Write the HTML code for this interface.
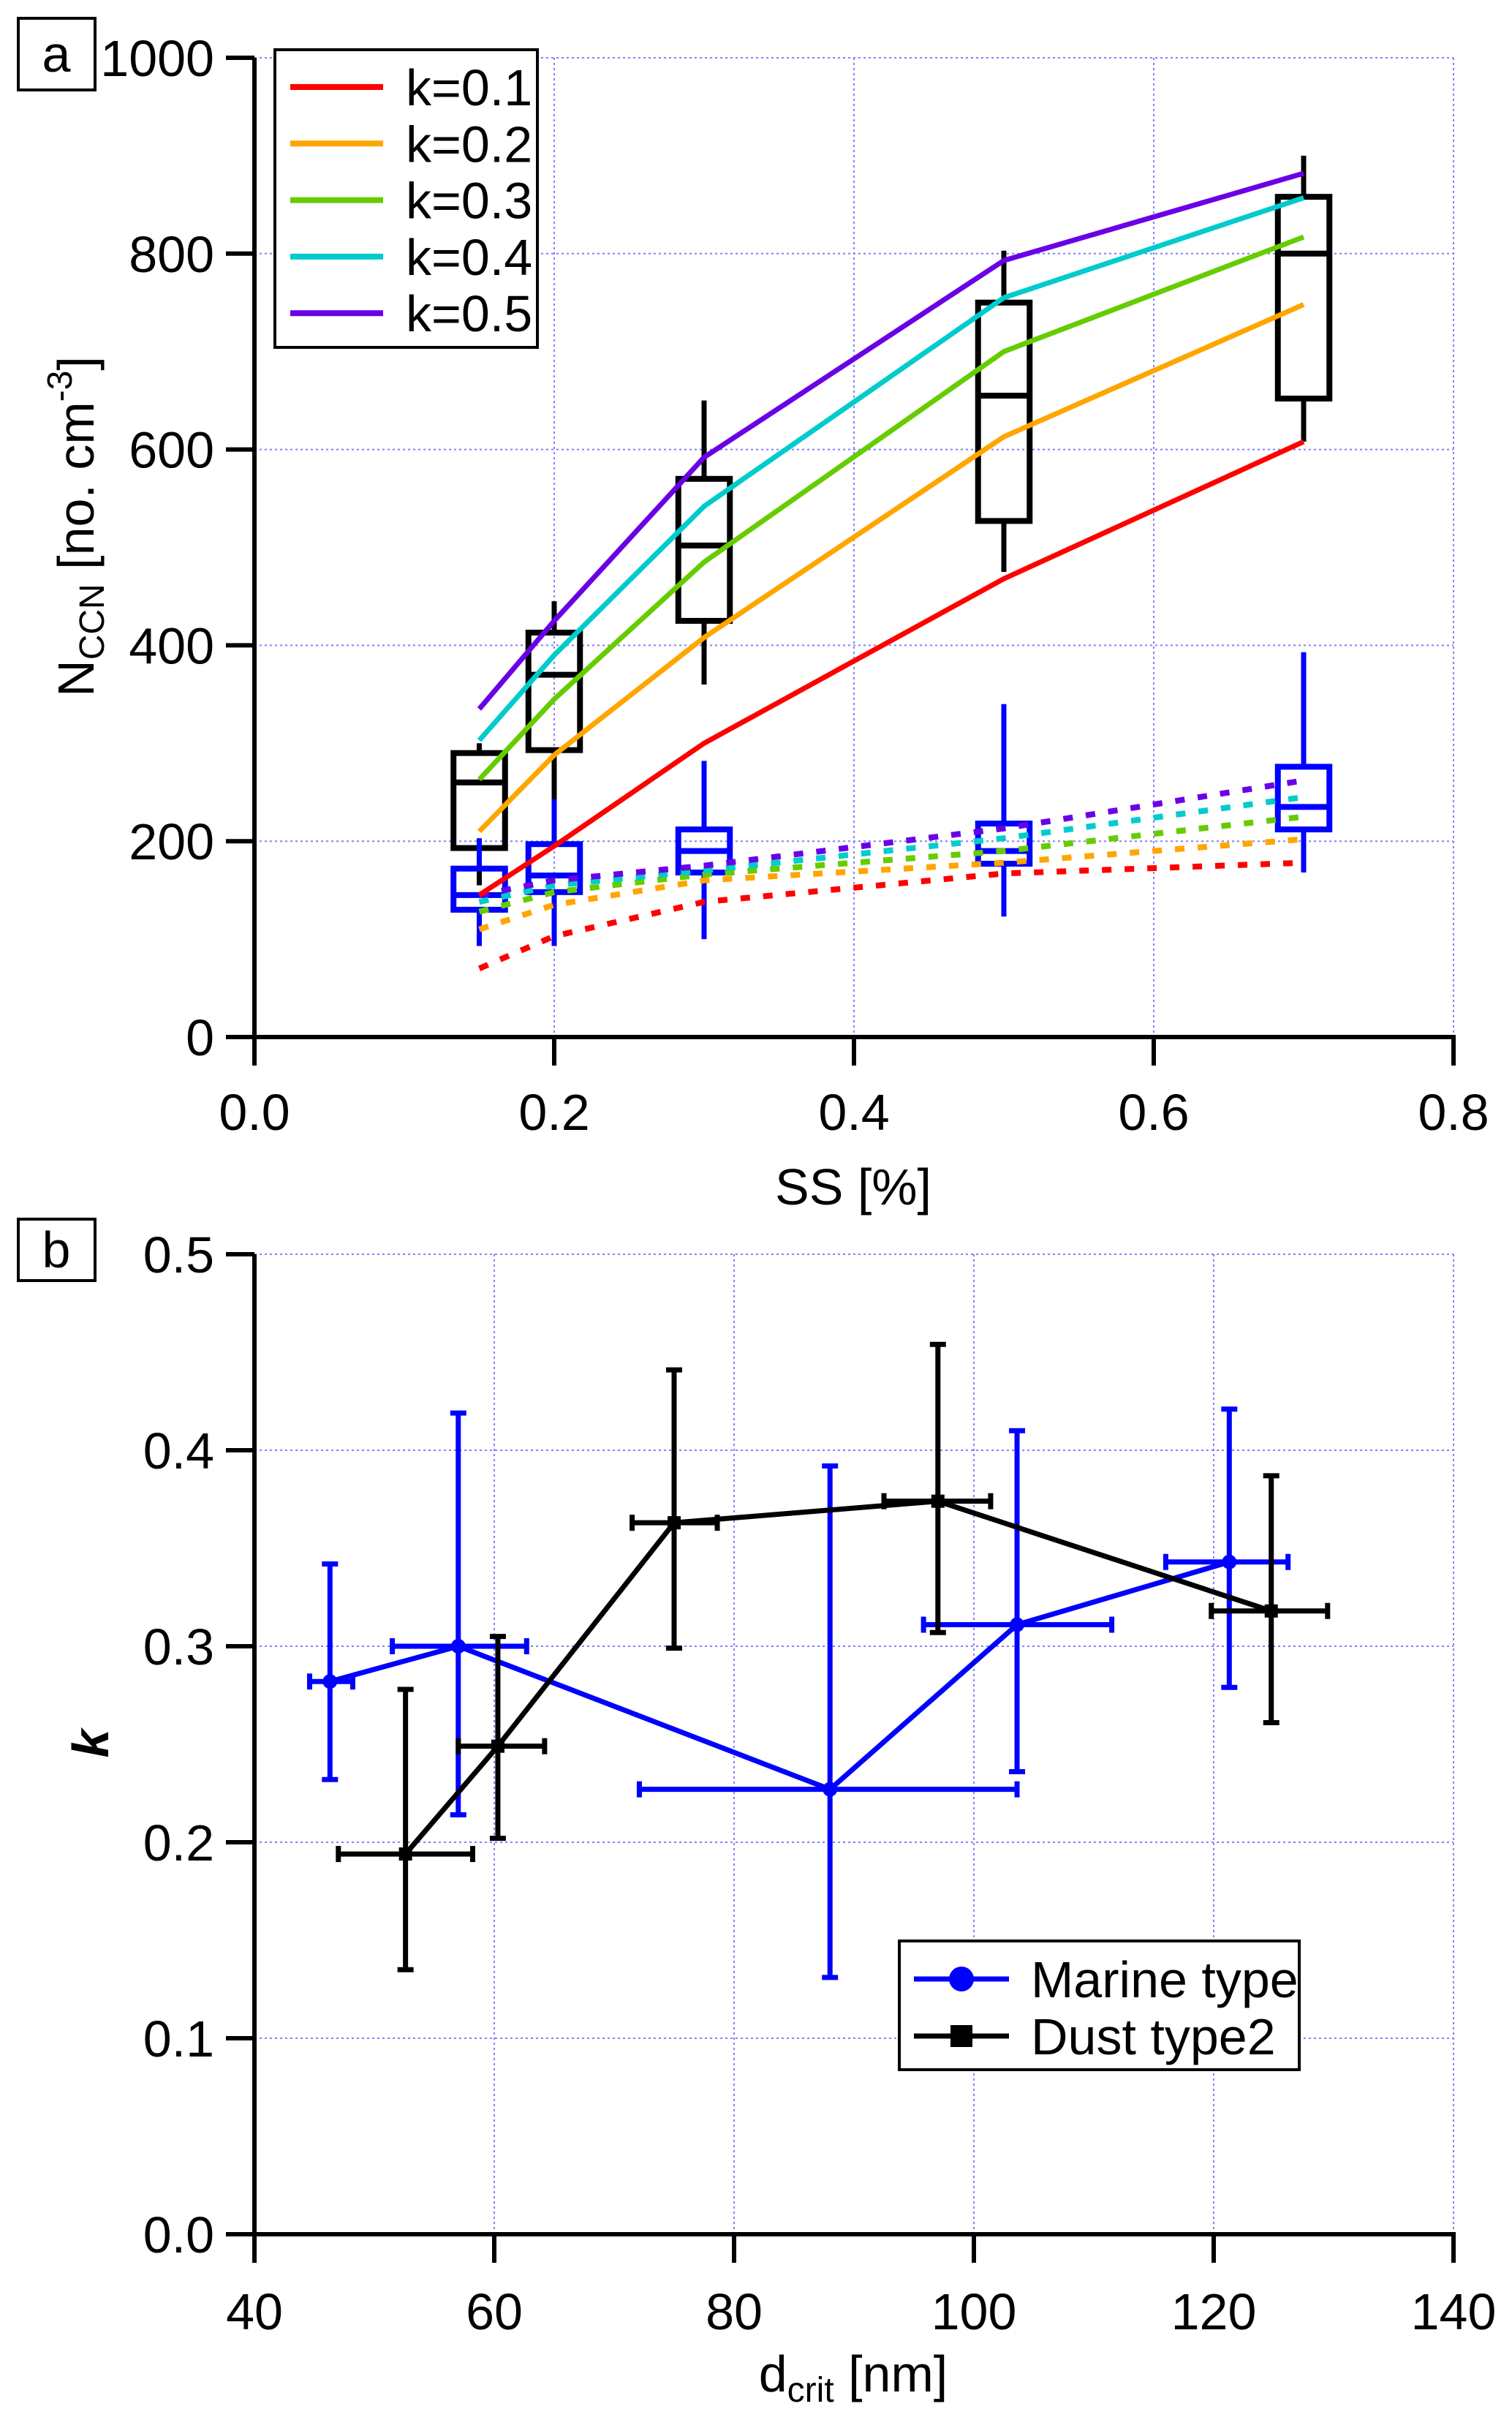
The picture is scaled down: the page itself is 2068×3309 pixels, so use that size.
<!DOCTYPE html>
<html><head><meta charset="utf-8">
<style>
html,body{margin:0;padding:0;background:#fff;}
svg{display:block;font-family:"Liberation Sans",Arial,sans-serif;}
</style></head>
<body>
<svg id="chart" width="2068" height="3309" viewBox="0 0 2068 3309" xmlns="http://www.w3.org/2000/svg">
<rect x="0" y="0" width="2068" height="3309" fill="#fff"/>
<g id="pa"></g>
<g id="pb"></g>
</svg>
<script>
// ---- Panel a data ----
const ssCats = [0.15, 0.2, 0.3, 0.5, 0.7];
const kLabels = ["k=0.1","k=0.2","k=0.3","k=0.4","k=0.5"];
const kColors = ["#ff0000","#ffa500","#66cc00","#00cccc","#6a00e6"];
const solidK1 = [145,195,300,468,608];
const solidK2 = [210,288,408,613,748];
const solidK3 = [263,345,485,700,817];
const solidK4 = [303,390,542,755,857];
const solidK5 = [335,425,592,793,882];
const dashK1 = [70,103,138,167,178];
const dashK2 = [110,135,160,178,202];
const dashK3 = [128,148,166,190,225];
const dashK4 = [138,155,170,203,245];
const dashK5 = [145,160,175,213,262];
// boxes: [low whisker, q1, median, q3, high whisker]
const blackBoxLow  = [155,240,360,475,608];
const blackBoxQ1   = [193,293,425,527,652];
const blackBoxMed  = [260,370,502,655,800];
const blackBoxQ3   = [290,413,570,750,858];
const blackBoxHigh = [300,445,650,803,900];
const blueBoxLow  = [93,93,100,123,168];
const blueBoxQ1   = [130,148,168,177,212];
const blueBoxMed  = [145,165,190,190,235];
const blueBoxQ3   = [172,197,212,218,276];
const blueBoxHigh = [203,243,282,340,393];
const aXTicks = ["0.0","0.2","0.4","0.6","0.8"];
const aYTicks = ["0","200","400","600","800","1000"];

// ---- Panel b data ----
const marineX = [46.3,57,88,103.6,121.3];
const marineY = [0.282,0.300,0.227,0.311,0.343];
const marineXLo = [44.6,51.5,72.1,95.8,116];
const marineXHi = [48.2,62.7,103.6,111.5,126.2];
const marineYLo = [0.232,0.214,0.131,0.236,0.279];
const marineYHi = [0.342,0.419,0.392,0.410,0.421];
const dustX = [52.6,60.3,75,97,124.8];
const dustY = [0.194,0.249,0.363,0.374,0.318];
const dustXLo = [47,57,71.5,92.5,119.8];
const dustXHi = [58.2,64.2,78.6,101.4,129.5];
const dustYLo = [0.135,0.202,0.299,0.307,0.261];
const dustYHi = [0.278,0.305,0.441,0.454,0.387];
const bXTicks = ["40","60","80","100","120","140"];
const bYTicks = ["0.0","0.1","0.2","0.3","0.4","0.5"];

const NS="http://www.w3.org/2000/svg";
function mk(parent, tag, attrs, text){
  const e=document.createElementNS(NS,tag);
  for(const k in attrs) e.setAttribute(k,attrs[k]);
  if(text!==undefined) e.textContent=text;
  parent.appendChild(e); return e;
}
const FS=70;
const gridStyle={stroke:"#8080ff","stroke-width":2,"stroke-dasharray":"3,4"};

// ===== Panel A =====
const pa=document.getElementById('pa');
const aL=348,aR=1988,aT=79,aB=1418;
const ax=v=>aL+(v-0)/(0.8)*(aR-aL);
const ay=v=>aB-(v/1000)*(aB-aT);
aXTicks.forEach((t,i)=>{const v=parseFloat(t); if(v>0){const g=mk(pa,'line',Object.assign({x1:ax(v),x2:ax(v),y1:aT,y2:aB},gridStyle));
 }});
aYTicks.forEach((t,i)=>{const v=parseFloat(t); if(v>0){const g=mk(pa,'line',Object.assign({x1:aL,x2:aR,y1:ay(v),y2:ay(v)},gridStyle));
 }});
let e=mk(pa,'line',{x1:aL,x2:aL,y1:aT,y2:aB+3,stroke:"#000","stroke-width":6});
 
e=mk(pa,'line',{x1:aL-3,x2:aR+3,y1:aB,y2:aB,stroke:"#000","stroke-width":6});
 
aYTicks.forEach(t=>{const v=parseFloat(t);
  const tk=mk(pa,'line',{x1:aL-39,x2:aL,y1:ay(v),y2:ay(v),stroke:"#000","stroke-width":6});
   
  const lb=mk(pa,'text',{x:aL-55,y:ay(v)+25,"font-size":FS,"text-anchor":"end",fill:"#000"},t);
   
});
aXTicks.forEach(t=>{const v=parseFloat(t);
  const tk=mk(pa,'line',{x1:ax(v),x2:ax(v),y1:aB,y2:aB+39,stroke:"#000","stroke-width":6});
   
  const lb=mk(pa,'text',{x:ax(v),y:1545,"font-size":FS,"text-anchor":"middle",fill:"#000"},t);
   
});
e=mk(pa,'text',{x:1167,y:1647,"font-size":FS,"text-anchor":"middle"},"SS [%]");
 
e=mk(pa,'text',{transform:"translate(128,720) rotate(-90)","font-size":FS,"text-anchor":"middle"});
 
mk(e,'tspan',{},"N");
mk(e,'tspan',{"font-size":48,dy:14},"CCN");
mk(e,'tspan',{dy:-14}," [no. cm");
mk(e,'tspan',{"font-size":48,dy:-30},"-3");
mk(e,'tspan',{dy:30},"]");
e=mk(pa,'rect',{x:25,y:25,width:105,height:98,fill:"none",stroke:"#000","stroke-width":4});
 
e=mk(pa,'text',{x:77,y:98,"font-size":FS,"text-anchor":"middle"},"a");
 

function drawBoxes(low,q1,med,q3,high,color,name){
  const hw=(aR-aL)*0.0215;
  ssCats.forEach((s,i)=>{
    const cx=ax(s);
    const g=mk(pa,'g',{});
     
    mk(g,'line',{x1:cx,x2:cx,y1:ay(high[i]),y2:ay(q3[i]),stroke:color,"stroke-width":7});
    mk(g,'line',{x1:cx,x2:cx,y1:ay(q1[i]),y2:ay(low[i]),stroke:color,"stroke-width":7});
    mk(g,'rect',{x:cx-hw,y:ay(q3[i]),width:2*hw,height:ay(q1[i])-ay(q3[i]),fill:"none",stroke:color,"stroke-width":8});
    mk(g,'line',{x1:cx-hw,x2:cx+hw,y1:ay(med[i]),y2:ay(med[i]),stroke:color,"stroke-width":8});
  });
}
drawBoxes(blackBoxLow,blackBoxQ1,blackBoxMed,blackBoxQ3,blackBoxHigh,"#000","ccn-box-black");
drawBoxes(blueBoxLow,blueBoxQ1,blueBoxMed,blueBoxQ3,blueBoxHigh,"#0000ff","ccn-box-blue");

const solids=[solidK1,solidK2,solidK3,solidK4,solidK5];
const dashes=[dashK1,dashK2,dashK3,dashK4,dashK5];
dashes.forEach((arr,k)=>{
  const p=mk(pa,'polyline',{points:arr.map((v,i)=>ax(ssCats[i])+","+ay(v)).join(" "),fill:"none",stroke:kColors[k],"stroke-width":8,"stroke-dasharray":"13,18"});
   
});
solids.forEach((arr,k)=>{
  const p=mk(pa,'polyline',{points:arr.map((v,i)=>ax(ssCats[i])+","+ay(v)).join(" "),fill:"none",stroke:kColors[k],"stroke-width":7});
   
});
const lg=mk(pa,'g',{});
 
mk(lg,'rect',{x:376,y:68,width:359,height:407,fill:"#fff",stroke:"#000","stroke-width":4});
kLabels.forEach((t,k)=>{
  const yy=119+k*77.3;
  const ent=mk(lg,'g',{});
   
  mk(ent,'line',{x1:397,x2:524,y1:yy,y2:yy,stroke:kColors[k],"stroke-width":8});
  mk(ent,'text',{x:555,y:yy+25,"font-size":FS},t);
});

// ===== Panel B =====
const pb=document.getElementById('pb');
const bL=348,bR=1988,bT=1715,bB=3055;
const bx=v=>bL+(v-40)/100*(bR-bL);
const by=v=>bB-(v/0.5)*(bB-bT);
bXTicks.forEach(t=>{const v=parseFloat(t); if(v>40){const g=mk(pb,'line',Object.assign({x1:bx(v),x2:bx(v),y1:bT,y2:bB},gridStyle));
 }});
bYTicks.forEach(t=>{const v=parseFloat(t); if(v>0){const g=mk(pb,'line',Object.assign({x1:bL,x2:bR,y1:by(v),y2:by(v)},gridStyle));
 }});
e=mk(pb,'line',{x1:bL,x2:bL,y1:bT,y2:bB+3,stroke:"#000","stroke-width":6});
 
e=mk(pb,'line',{x1:bL-3,x2:bR+3,y1:bB,y2:bB,stroke:"#000","stroke-width":6});
 
bYTicks.forEach(t=>{const v=parseFloat(t);
  const tk=mk(pb,'line',{x1:bL-39,x2:bL,y1:by(v),y2:by(v),stroke:"#000","stroke-width":6});
   
  const lb=mk(pb,'text',{x:bL-55,y:by(v)+25,"font-size":FS,"text-anchor":"end"},t);
   
});
bXTicks.forEach(t=>{const v=parseFloat(t);
  const tk=mk(pb,'line',{x1:bx(v),x2:bx(v),y1:bB,y2:bB+39,stroke:"#000","stroke-width":6});
   
  const lb=mk(pb,'text',{x:bx(v),y:3185,"font-size":FS,"text-anchor":"middle"},t);
   
});
e=mk(pb,'text',{x:1167,y:3270,"font-size":FS,"text-anchor":"middle"});
 
mk(e,'tspan',{},"d");
mk(e,'tspan',{"font-size":48,dy:14},"crit");
mk(e,'tspan',{dy:-14},"  [nm]");
e=mk(pb,'text',{transform:"translate(148,2384) rotate(-90)","font-size":FS,"text-anchor":"middle","font-weight":"bold","font-style":"italic"},"k");
 
e=mk(pb,'rect',{x:25,y:1667,width:105,height:84,fill:"none",stroke:"#000","stroke-width":4});
 
e=mk(pb,'text',{x:77,y:1733,"font-size":FS,"text-anchor":"middle"},"b");
 

function series(X,Y,XLo,XHi,YLo,YHi,color,marker,name){
  const g=mk(pb,'g',{});
   
  const cap=11, w=7;
  X.forEach((x,i)=>{
    const eb=mk(g,'g',{});
     
    mk(eb,'line',{x1:bx(x),x2:bx(x),y1:by(YLo[i]),y2:by(YHi[i]),stroke:color,"stroke-width":w});
    mk(eb,'line',{x1:bx(x)-cap,x2:bx(x)+cap,y1:by(YLo[i]),y2:by(YLo[i]),stroke:color,"stroke-width":w});
    mk(eb,'line',{x1:bx(x)-cap,x2:bx(x)+cap,y1:by(YHi[i]),y2:by(YHi[i]),stroke:color,"stroke-width":w});
    mk(eb,'line',{x1:bx(XLo[i]),x2:bx(XHi[i]),y1:by(Y[i]),y2:by(Y[i]),stroke:color,"stroke-width":w});
    mk(eb,'line',{x1:bx(XLo[i]),x2:bx(XLo[i]),y1:by(Y[i])-cap,y2:by(Y[i])+cap,stroke:color,"stroke-width":w});
    mk(eb,'line',{x1:bx(XHi[i]),x2:bx(XHi[i]),y1:by(Y[i])-cap,y2:by(Y[i])+cap,stroke:color,"stroke-width":w});
  });
  mk(g,'polyline',{points:X.map((x,i)=>bx(x)+","+by(Y[i])).join(" "),fill:"none",stroke:color,"stroke-width":w});
  X.forEach((x,i)=>{
    let m;
    if(marker==='circle') m=mk(g,'circle',{cx:bx(x),cy:by(Y[i]),r:10,fill:color});
    else m=mk(g,'rect',{x:bx(x)-9,y:by(Y[i])-9,width:18,height:18,fill:color});
     
  });
}
series(marineX,marineY,marineXLo,marineXHi,marineYLo,marineYHi,"#0000ff","circle","marine-series");
series(dustX,dustY,dustXLo,dustXHi,dustYLo,dustYHi,"#000","square","dust-series");

const lb2=mk(pb,'g',{});
 
mk(lb2,'rect',{x:1230,y:2654,width:547,height:176,fill:"#fff",stroke:"#000","stroke-width":4});
let en=mk(lb2,'g',{});
 
mk(en,'line',{x1:1250,x2:1380,y1:2706,y2:2706,stroke:"#0000ff","stroke-width":7});
mk(en,'circle',{cx:1315,cy:2706,r:17,fill:"#0000ff"});
mk(en,'text',{x:1410,y:2731,"font-size":FS},"Marine type");
en=mk(lb2,'g',{});
 
mk(en,'line',{x1:1250,x2:1380,y1:2784,y2:2784,stroke:"#000","stroke-width":7});
mk(en,'rect',{x:1300,y:2769,width:30,height:30,fill:"#000"});
mk(en,'text',{x:1410,y:2809,"font-size":FS},"Dust type2");
</script>
</body></html>
